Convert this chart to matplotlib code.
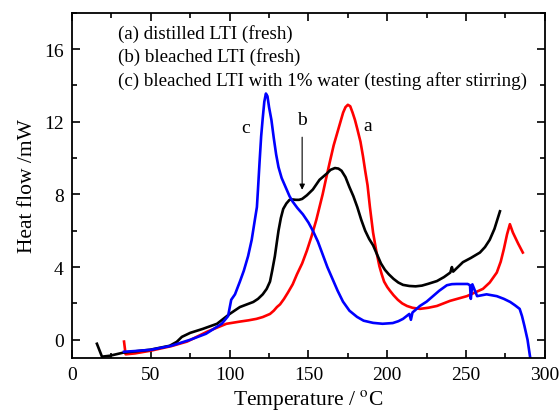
import numpy as np
import matplotlib
matplotlib.use("Agg")
import matplotlib.pyplot as plt

# (a) distilled LTI (fresh) - red
t_a = [33, 34, 40, 50, 63, 73, 85.6, 98, 106.5, 112, 117, 121, 125.6, 128, 130, 132, 134.5, 137,
       140, 142.7, 146, 149, 152, 155, 157, 159, 161, 163.6, 166, 168, 170, 172, 173.5, 175, 176.5,
       178, 179.5, 181, 183, 184.6, 186, 187.5, 189, 190, 191, 193, 195, 196.5, 198, 200, 201.7,
       204, 206.7, 209.5, 212.5, 216, 220.7, 226, 231.5, 239.8, 250.5, 260.7, 265, 269.5, 272,
       274, 276, 277.8, 279.7, 283, 286]
hf_a = [-0.1, -0.8, -0.75, -0.6, -0.35, -0.1, 0.44, 0.88, 1.0, 1.07, 1.15, 1.25, 1.42, 1.6, 1.8,
        1.95, 2.25, 2.6, 3.05, 3.6, 4.2, 4.9, 5.7, 6.6, 7.3, 8.0, 8.8, 9.8, 10.7, 11.3, 11.9, 12.5,
        12.8, 12.93, 12.85, 12.5, 12.1, 11.6, 10.9, 10.1, 9.3, 8.5, 7.3, 6.6, 5.9, 4.9, 4.05, 3.6,
        3.2, 2.9, 2.7, 2.45, 2.2, 2.0, 1.86, 1.76, 1.7, 1.76, 1.86, 2.14, 2.4, 2.8, 3.15, 3.7, 4.3,
        5.0, 5.8, 6.36, 5.9, 5.3, 4.8]

# (b) bleached LTI (fresh) - black
t_b = [15.8, 19, 24, 32.4, 49.5, 62, 66.5, 69.7, 75, 83, 92, 100, 106.5, 115, 118, 121, 123.5,
       125.6, 127, 128.7, 130, 131, 132.5, 134, 136, 138, 140, 142, 144, 146, 149, 152.8, 157,
       161.7, 164, 166.8, 169, 171, 173.5, 176, 178.5, 181, 183.5, 186, 188.5, 191, 193.5, 196,
       198.5, 201, 204, 207, 210, 214, 218, 222, 226, 231.5, 236, 240, 241, 241.8, 248, 253,
       258.8, 262, 265, 268, 271.5]
hf_b = [-0.22, -0.93, -0.88, -0.71, -0.55, -0.33, -0.11, 0.16, 0.38, 0.6, 0.88, 1.42, 1.8, 2.08,
        2.25, 2.5, 2.8, 3.2, 3.8, 4.6, 5.4, 6.0, 6.7, 7.2, 7.5, 7.7, 7.72, 7.7, 7.7, 7.75, 7.95,
        8.27, 8.8, 9.15, 9.35, 9.45, 9.42, 9.3, 8.95, 8.4, 7.9, 7.3, 6.6, 6.0, 5.55, 5.2, 4.7, 4.2,
        3.85, 3.6, 3.35, 3.15, 3.02, 2.96, 2.94, 2.98, 3.08, 3.23, 3.45, 3.7, 4.0, 3.75, 4.27, 4.5,
        4.8, 5.1, 5.5, 6.1, 7.07]

# (c) bleached LTI with 1% water - blue
t_c = [33, 40, 50, 63, 75, 85, 95, 99, 101, 103.4, 106.5, 109, 111.7, 114, 116, 117.3, 118, 119,
       120, 121, 122, 123, 124, 125, 126.5, 128, 129.5, 131, 133, 136, 138, 140, 143, 146.5, 150,
       152.8, 156, 159, 162, 165.5, 168.5, 171.9, 176, 180.8, 185, 191, 197, 203.5, 207, 210, 214,
       215, 216, 218, 220.7, 225, 229, 233, 237.8, 241, 244, 251, 252.5, 253, 254, 257, 263,
       269.5, 274, 278, 281, 284, 285.5, 287, 289, 290.5, 291.5]
hf_c = [-0.66, -0.62, -0.55, -0.33, 0.0, 0.33, 0.88, 1.3, 2.2, 2.5, 3.2, 3.8, 4.6, 5.5, 6.6, 7.3,
        8.3, 9.8, 11.2, 12.2, 13.1, 13.55, 13.4, 12.8, 12.1, 11.1, 10.2, 9.5, 8.9, 8.3, 7.9, 7.6,
        7.25, 6.9, 6.45, 6.0, 5.4, 4.7, 4.0, 3.3, 2.7, 2.1, 1.6, 1.26, 1.05, 0.93, 0.88, 0.92, 1.02,
        1.15, 1.42, 1.1, 1.5, 1.65, 1.86, 2.1, 2.4, 2.7, 3.0, 3.06, 3.07, 3.07, 3.0, 2.25, 3.05,
        2.4, 2.5, 2.4, 2.25, 2.08, 1.9, 1.7, 1.3, 0.77, 0.0, -0.88, -1.4]

legend_lines = ["(a) distilled LTI (fresh)",
                "(b) bleached LTI (fresh)",
                "(c) bleached LTI with 1% water (testing after stirring)"]

plt.rcParams['font.family'] = 'Liberation Serif'
plt.rcParams['mathtext.fontset'] = 'stix'

fig = plt.figure(figsize=(5.6, 4.14), dpi=100)
ax = fig.add_axes([0.1286, 0.133, 0.8444, 0.834])

ax.plot(t_a, hf_a, color='red', lw=1.9, solid_joinstyle='round')
ax.plot(t_b, hf_b, color='black', lw=1.9, solid_joinstyle='round')
ax.plot(t_c, hf_c, color='blue', lw=1.9, solid_joinstyle='round')

ax.set_xlim(0, 300)
ax.set_ylim(-1, 18)
ax.set_xticks([0, 50, 100, 150, 200, 250, 300])
ax.set_xticks(np.arange(25, 300, 50), minor=True)
ax.set_yticks([0, 4, 8, 12, 16])
ax.set_yticks([2, 6, 10, 14, 18], minor=True)
ax.tick_params(which='both', direction='in', top=True, right=True, labelsize=14, width=1.2)
ax.tick_params(which='major', length=6, pad=6)
ax.tick_params(which='minor', length=3.5)
for s in ax.spines.values():
    s.set_linewidth(1.3)

ax.set_xlabel(r"Temperature / $^{\rm o}$C", fontsize=15.5, labelpad=3)
ax.set_ylabel("Heat flow /mW", fontsize=15.5, labelpad=5)

for i, txt in enumerate(legend_lines):
    ax.text(29, 16.9 - 1.3 * i, txt, fontsize=13.7, va='center', ha='left')

ax.text(110, 11.7, "c", fontsize=14, ha='center', va='center')
ax.text(146, 12.1, "b", fontsize=14, ha='center', va='center')
ax.text(187.5, 11.8, "a", fontsize=14, ha='center', va='center')
ax.annotate("", xy=(146, 8.1), xytext=(146, 11.3),
            arrowprops=dict(arrowstyle='-|>', color='black', lw=0.8, mutation_scale=8))

fig.savefig("out.png", dpi=100)
